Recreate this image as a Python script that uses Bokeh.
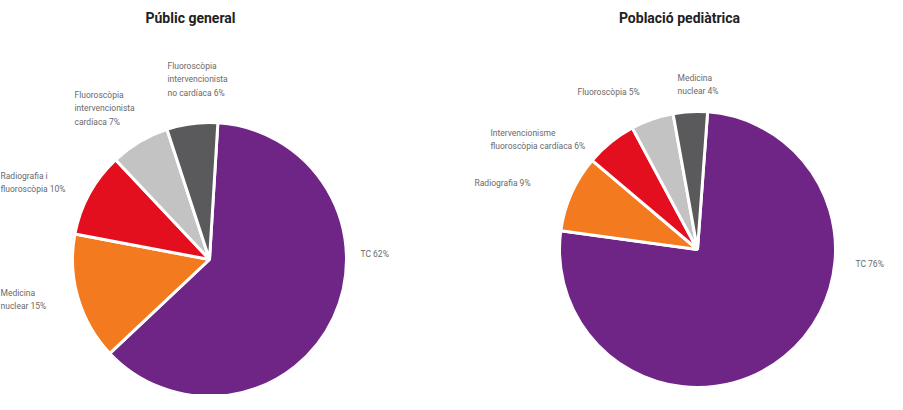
import math
from bokeh.plotting import figure
from bokeh.models import Range1d, ColumnDataSource
from bokeh.core.properties import value
from bokeh.embed import file_html
from bokeh.resources import INLINE

# ---- data ----
titles = ["Públic general", "Població pediàtrica"]

general_labels = ["TC 62%", "Medicina\nnuclear 15%", "Radiografia i\nfluoroscòpia 10%",
                  "Fluoroscòpia\nintervencionista\ncardíaca 7%",
                  "Fluoroscòpia\nintervencionista\nno cardíaca 6%"]
general_values = [62, 15, 10, 7, 6]

pediatric_labels = ["TC 76%", "Radiografia 9%", "Intervencionisme\nfluoroscòpia cardíaca 6%",
                    "Fluoroscòpia 5%", "Medicina\nnuclear 4%"]
pediatric_values = [76, 9, 6, 5, 4]

colors = ["#6e2585", "#f47a20", "#e30f1e", "#c3c3c3", "#5a5a5c"]

# ---- layout ----
W, H = 887, 394
p = figure(width=W, height=H, output_backend="svg", toolbar_location=None,
           x_range=Range1d(0, W), y_range=Range1d(0, H), min_border=0)
p.axis.visible = False
p.grid.visible = False
p.outline_line_color = None
p.background_fill_color = "white"

def Y(top):
    return H - top

def pie(values, cx, cy_top, r, offset_deg):
    total = float(sum(values))
    starts, ends = [], []
    acc = offset_deg
    for v in values:
        th1 = acc
        th2 = acc + 360.0 * v / total
        starts.append(math.radians(90 - th1))
        ends.append(math.radians(90 - th2))
        acc = th2
    src = ColumnDataSource(dict(x=[cx] * len(values), y=[Y(cy_top)] * len(values),
                                s=starts, e=ends, c=colors[:len(values)]))
    p.wedge(x="x", y="y", radius=r, start_angle="s", end_angle="e", direction="clock",
            fill_color="c", line_color="white", line_width=3, source=src)

pie(general_values, 209, 259, 137, 3.5)
pie(pediatric_values, 697, 249, 138, 4.2)

def labels(texts, xs, tops):
    src = ColumnDataSource(dict(x=xs, y=[Y(t) for t in tops], t=texts))
    p.text(x="x", y="y", text="t", source=src, text_font=value("Roboto"),
           text_font_size="8.5px", text_color="#6a6a6a", text_baseline="top",
           text_align="left", text_line_height=1.35)

labels(general_labels, [360, 0, 0, 74, 167], [248, 287, 170, 89, 60])
labels(pediatric_labels, [855, 474, 490, 577, 677], [258, 177, 127, 86, 72])

tsrc = ColumnDataSource(dict(x=[190, 679], y=[Y(9), Y(9)], t=titles))
p.text(x="x", y="y", text="t", source=tsrc, text_font=value("Roboto"),
       text_font_size="14px", text_font_style="bold", text_color="#222222",
       text_baseline="top", text_align="center")

open("out.html", "w").write(file_html(p, INLINE))
